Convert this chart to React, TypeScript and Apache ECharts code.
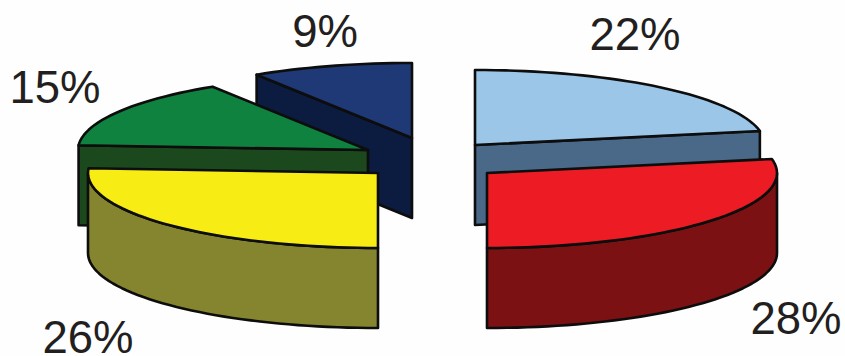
import React, { useEffect, useRef } from "react";
import * as echarts from "echarts";

// Share of each slice, clockwise from twelve o'clock.
const shares = [22, 28, 26, 15, 9];
const topColors = ["#9bc6e8", "#ed1c24", "#f7ec13", "#10823f", "#1e3975"];
const wallColors = ["#4a6988", "#7b1113", "#858530", "#1b481c", "#0b1c40"];

// Exploded slice centres on the page and the stacking layer of each, back to front.
const centresX = [475, 487, 378, 368, 412];
const centresY = [145, 173, 173, 150, 138];
const layer = [2, 3, 3, 1, 0];

// Where each percentage sits.
const labelX = [635, 796, 88, 55, 325];
const labelY = [34, 318, 337, 87, 31];

const RADIUS_X = 290;
const RADIUS_Y = 75;
const DEPTH = 80;
const OUTLINE = "#0d0d0d";

const total = shares.reduce((sum, v) => sum + v, 0);

// Start angle of a slice in degrees, clockwise from the top.
const startAngle = (index: number) =>
  (shares.slice(0, index).reduce((sum, v) => sum + v, 0) / total) * 360;

const rimPoint = (cx: number, cy: number, deg: number): number[] => {
  const rad = (deg * Math.PI) / 180;
  return [cx + RADIUS_X * Math.sin(rad), cy - RADIUS_Y * Math.cos(rad)];
};

const arc = (cx: number, cy: number, from: number, to: number): number[][] => {
  const steps = Math.max(2, Math.ceil((to - from) / 2));
  const pts: number[][] = [];
  for (let i = 0; i <= steps; i++) {
    pts.push(rimPoint(cx, cy, from + ((to - from) * i) / steps));
  }
  return pts;
};

const face = (points: number[][], fill: string, z2: number) => ({
  type: "polygon",
  z2,
  shape: { points },
  style: { fill, stroke: OUTLINE, lineWidth: 2.6, lineJoin: "round" },
});

// One extruded slice: side walls first, then the lid and its percentage.
const renderSlice = (params: any, api: any) => {
  const i = params.dataIndex;
  const value = api.value(0);
  const cx = centresX[i];
  const cy = centresY[i];
  const a = startAngle(i);
  const b = a + (value / total) * 360;
  const base = layer[i] * 10;
  const children: any[] = [];

  const radialWall = (deg: number) => {
    const [x, y] = rimPoint(cx, cy, deg);
    children.push(
      face([[cx, cy], [x, y], [x, y + DEPTH], [cx, cy + DEPTH]], wallColors[i], base),
    );
  };
  if (Math.sin((a * Math.PI) / 180) < -1e-6) radialWall(a);
  if (Math.sin((b * Math.PI) / 180) > 1e-6) radialWall(b);

  // The curved rim faces the viewer between 90 and 270 degrees.
  const from = Math.max(a, 90);
  const to = Math.min(b, 270);
  if (to - from > 15) {
    const upper = arc(cx, cy, from, to);
    const lower = upper.map(([x, y]) => [x, y + DEPTH]).reverse();
    children.push(face([...upper, ...lower], wallColors[i], base + 1));
  }

  children.push(face([[cx, cy], ...arc(cx, cy, a, b)], topColors[i], base + 2));
  children.push({
    type: "text",
    z2: 100,
    x: labelX[i],
    y: labelY[i],
    style: {
      text: `${value}%`,
      fill: "#231f20",
      font: '45.5px "Liberation Sans", Arial, sans-serif',
      textAlign: "center",
      textVerticalAlign: "middle",
    },
  });
  return { type: "group", children };
};

export default function App() {
  const ref = useRef<HTMLDivElement>(null);

  useEffect(() => {
    document.body.style.margin = "0";
    const chart = echarts.init(ref.current!, null, { renderer: "svg" });
    chart.setOption({
      animation: false,
      backgroundColor: "#fefefe",
      series: [
        {
          type: "custom",
          coordinateSystem: "none",
          silent: true,
          renderItem: renderSlice,
          data: shares.map((v) => [v]),
        },
      ],
    });
    return () => chart.dispose();
  }, []);

  return <div ref={ref} style={{ width: 845, height: 356 }} />;
}
